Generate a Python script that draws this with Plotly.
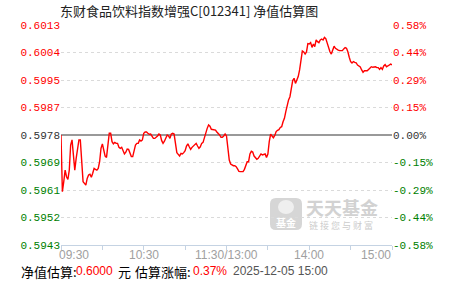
import plotly.graph_objects as go

# ---------------- data ----------------
base_nav = 0.5978          # previous NAV (0.00% line)
title_text = "东财食品饮料指数增强C[012341] 净值估算图"

# estimated change (%) for each trading minute, 09:30 .. 11:30 | 13:00 .. 15:00
pct = [
    0.000, -0.299, -0.246, -0.185, -0.220, -0.234, -0.185, -0.053, -0.026, -0.114,
    -0.185, -0.123, -0.062, -0.026, -0.026, -0.149, -0.246, -0.255, -0.264, -0.229,
    -0.211, -0.207, -0.223, -0.202, -0.176, -0.181, -0.185, -0.176, -0.141, -0.070,
    -0.047, -0.079, -0.111, -0.118, -0.062, 0.009, 0.009, -0.035, -0.047, -0.039,
    -0.044, -0.044, -0.065, -0.070, -0.065, -0.088, -0.100, -0.091, -0.074, -0.076,
    -0.097, -0.114, -0.114, -0.088, -0.053, -0.044, -0.044, -0.026, -0.032, -0.026,
    0.009, 0.016, 0.016, 0.009, 0.004, 0.005, -0.005, -0.018, -0.018, -0.012,
    -0.005, 0.005, 0.000, -0.030, -0.044, -0.033, -0.018, 0.000, -0.005, -0.018,
    0.005, 0.009, 0.005, -0.044, -0.093, -0.102, -0.111, -0.097, -0.100, -0.093,
    -0.083, -0.058, -0.047, -0.062, -0.076, -0.065, -0.058, -0.051, -0.044, -0.058,
    -0.070, -0.062, -0.044, -0.039, -0.009, 0.021, 0.035, 0.053, 0.046, 0.030,
    0.028, 0.026, 0.026, 0.016, 0.009, 0.000, -0.012, -0.012, -0.005, 0.005,
    -0.005, -0.088, -0.132, -0.153, -0.160, -0.162, -0.162, -0.167, -0.179, -0.192,
    -0.193, -0.193, -0.193, -0.181, -0.158, -0.141, -0.141, -0.100, -0.086, -0.090,
    -0.111, -0.123, -0.128, -0.123, -0.111, -0.100, -0.105, -0.102, -0.100, -0.118,
    -0.100, -0.035, 0.004, -0.005, -0.014, -0.002, 0.018, 0.025, 0.028, 0.040,
    0.044, 0.070, 0.088, 0.123, 0.158, 0.185, 0.202, 0.246, 0.287, 0.299,
    0.272, 0.290, 0.308, 0.343, 0.396, 0.443, 0.438, 0.427, 0.438, 0.482,
    0.480, 0.487, 0.462, 0.480, 0.466, 0.501, 0.492, 0.487, 0.501, 0.506,
    0.501, 0.515, 0.508, 0.483, 0.457, 0.439, 0.427, 0.448, 0.468, 0.457,
    0.450, 0.448, 0.445, 0.443, 0.445, 0.454, 0.461, 0.457, 0.439, 0.410,
    0.387, 0.380, 0.387, 0.383, 0.381, 0.369, 0.364, 0.359, 0.343, 0.331,
    0.339, 0.341, 0.339, 0.346, 0.353, 0.360, 0.357, 0.359, 0.360, 0.355,
    0.355, 0.346, 0.355, 0.346, 0.364, 0.371, 0.360, 0.364, 0.371, 0.374,
    0.370,
]
minutes = list(range(len(pct)))

x_tick_minutes = [0, 30, 60, 90, 120, 150, 180, 210, 240]
x_label_minutes = [0, 60, 120, 180, 240]
x_labels = ["09:30", "10:30", "11:30/13:00", "14:00", "15:00"]

y_steps = [4, 3, 2, 1, 0, -1, -2, -3, -4]
nav_labels = ["0.6013", "0.6004", "0.5995", "0.5987", "0.5978",
              "0.5969", "0.5961", "0.5952", "0.5943"]
pct_labels = ["0.58%", "0.44%", "0.29%", "0.15%", "0.00%",
              "-0.15%", "-0.29%", "-0.44%", "-0.58%"]
max_pct = 0.58

est_nav = "0.6000"
est_pct = "0.37%"
est_time = "2025-12-05 15:00"

# ---------------- figure ----------------
W, H = 451, 281
L, R, T, B = 61, 392, 25, 245   # plot area in pixels

nav = [base_nav * (1 + p / 100) for p in pct]
step_pct = max_pct / 4
nav_range = [base_nav * (1 - max_pct / 100), base_nav * (1 + max_pct / 100)]


def col(k):
    return "#ff0000" if k > 0 else ("#333333" if k == 0 else "#008000")


left_text = [f"<span style='color:{col(k)}'>{t}</span>" for k, t in zip(y_steps, nav_labels)]
right_text = [f"<span style='color:{col(k)}'>{t}</span>" for k, t in zip(y_steps, pct_labels)]

fig = go.Figure()
fig.add_trace(go.Scatter(x=minutes, y=nav, mode="lines",
                         line=dict(color="#ff0000", width=1.4),
                         hoverinfo="skip", showlegend=False))
fig.add_trace(go.Scatter(x=minutes, y=pct, mode="lines", yaxis="y2",
                         line=dict(color="rgba(0,0,0,0)", width=0),
                         hoverinfo="skip", showlegend=False))

tickfont = dict(family="Liberation Mono", size=11)

fig.update_layout(
    width=W, height=H,
    margin=dict(l=L, r=W - R, t=T, b=H - B, pad=0),
    paper_bgcolor="white", plot_bgcolor="white",
    xaxis=dict(range=[0, 240], tickvals=x_tick_minutes, showticklabels=False,
               ticks="outside", ticklen=4, tickcolor="#c5d3e3", tickwidth=1,
               showline=True, linecolor="#c5d3e3", linewidth=1,
               showgrid=False, zeroline=False, fixedrange=True),
    yaxis=dict(range=nav_range,
               tickvals=[base_nav * (1 + k * step_pct / 100) for k in y_steps],
               ticktext=left_text, tickfont=tickfont, ticks="",
               showgrid=True, gridcolor="#dadada", griddash="dot", gridwidth=1,
               zeroline=False, showline=False, fixedrange=True),
    yaxis2=dict(range=[-max_pct, max_pct], overlaying="y", side="right",
                tickvals=[k * step_pct for k in y_steps],
                ticktext=right_text, tickfont=tickfont, ticks="",
                showgrid=False, zeroline=True, zerolinecolor="#999999", zerolinewidth=1.5,
                showline=False, fixedrange=True),
)


def px(x):
    return (x - L) / (R - L)


def py(y):
    return (B - y) / (B - T)


ann = []
# title
ann.append(dict(text=title_text, xref="paper", yref="paper",
                x=px(58), y=py(11), xanchor="left", yanchor="middle",
                showarrow=False, font=dict(family="Noto Sans CJK SC", size=13, color="#222222")))
# x labels
for m, t in zip(x_label_minutes, x_labels):
    anchor = "left" if m == 0 else ("right" if m == 240 else "center")
    shift = -4 if m == 0 else (1 if m == 240 else 0)
    ann.append(dict(text=t, xref="x", yref="paper", x=m, y=py(255),
                    xanchor=anchor, yanchor="middle", xshift=shift, showarrow=False,
                    font=dict(family="Liberation Sans", size=12, color="#a0a0a0")))
# bottom info line (pieces placed like the reference)
cjk = dict(family="Noto Sans CJK SC", size=13, color="#000000")
num = dict(family="Liberation Sans", size=12, color="#ff0000")
info_parts = [
    (19, "净值估算:", cjk),
    (74, est_nav, num),
    (116, "元", cjk),
    (133, "估算涨幅:", cjk),
    (191, est_pct, num),
    (231, est_time, dict(family="Liberation Sans", size=12, color="#555555")),
]
for xpix, t, f in info_parts:
    ann.append(dict(text=t, xref="paper", yref="paper", x=px(xpix), y=py(271),
                    xanchor="left", yanchor="middle", showarrow=False, font=f))

# watermark logo
x0, x1, y0, y1, r = 270, 302, 198, 230, 6
path = (f"M {px(x0 + r)} {py(y0)} L {px(x1 - r)} {py(y0)} Q {px(x1)} {py(y0)} {px(x1)} {py(y0 + r)} "
        f"L {px(x1)} {py(y1 - r)} Q {px(x1)} {py(y1)} {px(x1 - r)} {py(y1)} "
        f"L {px(x0 + r)} {py(y1)} Q {px(x0)} {py(y1)} {px(x0)} {py(y1 - r)} "
        f"L {px(x0)} {py(y0 + r)} Q {px(x0)} {py(y0)} {px(x0 + r)} {py(y0)} Z")
shapes = [
    dict(type="path", path=path, xref="paper", yref="paper",
         fillcolor="#d6d6d6", line=dict(width=0), layer="below"),
    dict(type="circle", xref="paper", yref="paper",
         x0=px(278), x1=px(294), y0=py(214), y1=py(200),
         fillcolor="#efefef", line=dict(width=0), layer="below"),
]
ann.append(dict(text="<b>基金</b>", xref="paper", yref="paper", x=px(286), y=py(222),
                xanchor="center", yanchor="middle", showarrow=False,
                font=dict(family="Noto Sans CJK SC", size=10, color="#ffffff")))
ann.append(dict(text="<b>天天基金</b>", xref="paper", yref="paper", x=px(342), y=py(207),
                xanchor="center", yanchor="middle", showarrow=False,
                font=dict(family="Noto Sans CJK SC", size=18, color="#d2d2d2")))
ann.append(dict(text="链 接 您 与 财 富", xref="paper", yref="paper", x=px(341), y=py(225),
                xanchor="center", yanchor="middle", showarrow=False,
                font=dict(family="Noto Sans CJK SC", size=9, color="#cccccc")))

fig.update_layout(annotations=ann, shapes=shapes)
fig.write_html("out.html", config={"displayModeBar": False})
